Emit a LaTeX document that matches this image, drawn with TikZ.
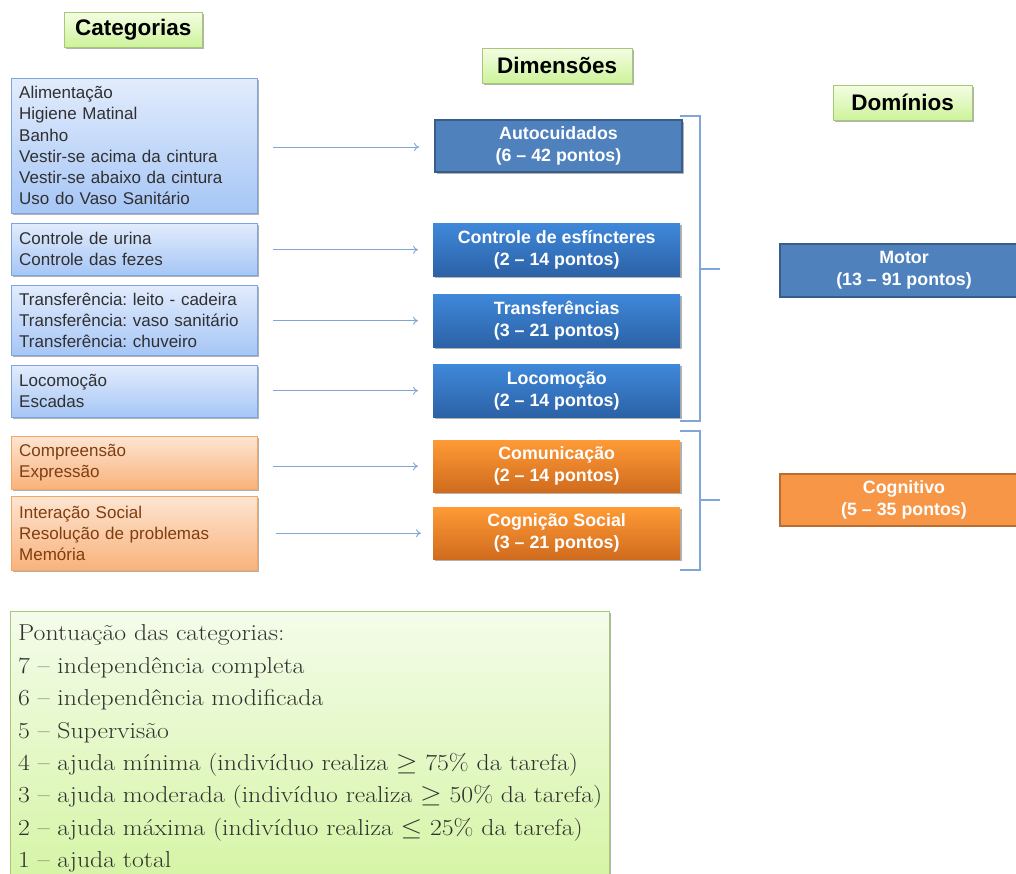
\documentclass[tikz,border=0pt]{standalone}
\usepackage{fontspec}
\usepackage{graphicx}
\newfontfamily\arial{Liberation Sans}
\usetikzlibrary{shadows,arrows.meta,calc}
\frenchspacing
\definecolor{hdrBd}{HTML}{A9C877}
\definecolor{hdrT}{HTML}{F4FDE4}
\definecolor{hdrBo}{HTML}{CDF39A}
\definecolor{catBd}{HTML}{7FA6DC}
\definecolor{catT}{HTML}{E2ECFC}
\definecolor{catBo}{HTML}{A6C6F6}
\definecolor{orgBd}{HTML}{F4A765}
\definecolor{orgT}{HTML}{FDE5D2}
\definecolor{orgBo}{HTML}{F9B27B}
\definecolor{orgTxt}{HTML}{7F3E10}
\definecolor{catTxt}{HTML}{303030}
\definecolor{dimT}{HTML}{3F88DA}
\definecolor{dimBo}{HTML}{2C62A6}
\definecolor{dimO}{HTML}{FF9A36}
\definecolor{dimOBo}{HTML}{D06B1E}
\definecolor{steel}{HTML}{4F81BD}
\definecolor{steelBd}{HTML}{385D8A}
\definecolor{orgF}{HTML}{F79646}
\definecolor{orgFBd}{HTML}{B66D31}
\definecolor{lnk}{HTML}{80A6D8}
\definecolor{botT}{HTML}{F4FCEA}
\definecolor{botBo}{HTML}{D3F4A0}
\definecolor{botBd}{HTML}{A9C877}
\begin{document}
\begin{tikzpicture}[x=1pt,y=-1pt,
  shd/.style={drop shadow={shadow xshift=1.5pt,shadow yshift=-2pt,opacity=0.3,fill=black}},
  hdr/.style={shd,draw=hdrBd,top color=hdrT,bottom color=hdrBo,anchor=north west,inner sep=0pt,
    minimum height=35pt,font=\arial\bfseries\fontsize{22.5}{26}\selectfont,text=black},
  catbox/.style={shd,draw=catBd,top color=catT,bottom color=catBo,anchor=north west,
    text width=230pt,inner xsep=8pt,inner ysep=0pt,align=left,
    font=\arial\fontsize{17}{21.2}\selectfont,text=catTxt},
  orgbox/.style={catbox,draw=orgBd,top color=orgT,bottom color=orgBo,text=orgTxt},
  dimbox/.style={shd,anchor=north west,minimum width=247pt,minimum height=53pt,inner sep=0pt,
    align=center,font=\arial\bfseries\fontsize{17.8}{22}\selectfont,text=white,
    top color=dimT,bottom color=dimBo},
  dimorg/.style={dimbox,top color=dimO,bottom color=dimOBo},
  dombox/.style={anchor=north west,minimum width=248pt,minimum height=53pt,inner sep=0pt,
    align=center,font=\arial\bfseries\fontsize{17.8}{22}\selectfont,text=white,
    fill=steel,draw=steelBd,line width=2pt},
  link/.style={draw=lnk,line width=0.9pt,-{To[length=5pt,width=8pt]}},
  brk/.style={draw=lnk,line width=1.1pt}]
\useasboundingbox (0,0) rectangle (1016,873);
% headers
\node[hdr,minimum width=138pt] (hc) at (64,12) {Categorias};
\node[hdr,minimum width=150pt] (hd) at (482,48) {Dimensões};
\node[hdr,minimum width=139pt] (hm) at (833,85) {Domínios};
% categories
\node[catbox,minimum height=135pt] (c1) at (11,78) {Alimentação\\Higiene Matinal\\Banho\\Vestir-se acima da cintura\\Vestir-se abaixo da cintura\\Uso do Vaso Sanitário};
\node[catbox,minimum height=52pt] (c2) at (11,223) {Controle de urina\\Controle das fezes};
\node[catbox,minimum height=70pt] (c3) at (11,285) {Transferência: leito - cadeira\\Transferência: vaso sanitário\\Transferência: chuveiro};
\node[catbox,minimum height=52pt] (c4) at (11,365) {Locomoção\\Escadas};
\node[orgbox,minimum height=53pt] (c5) at (11,436) {Compreensão\\Expressão};
\node[orgbox,minimum height=74pt] (c6) at (11,496) {Interação Social\\Resolução de problemas\\Memória};
% dimensions
\node[dimbox,top color=steel,bottom color=steel,draw=steelBd,line width=2pt,minimum height=52pt] (d1) at (434,119) {Autocuidados\\(6 – 42 pontos)};
\node[dimbox] (d2) at (433,223) {Controle de esfíncteres\\(2 – 14 pontos)};
\node[dimbox] (d3) at (433,294) {Transferências\\(3 – 21 pontos)};
\node[dimbox] (d4) at (433,364) {Locomoção\\(2 – 14 pontos)};
\node[dimorg,minimum height=52pt] (d5) at (433,440) {Comunicação\\(2 – 14 pontos)};
\node[dimorg,minimum height=52pt] (d6) at (433,507) {Cognição Social\\(3 – 21 pontos)};
% domains
\node[dombox] (m1) at (779,243) {Motor\\(13 – 91 pontos)};
\node[dombox,fill=orgF,draw=orgFBd,minimum height=52pt] (m2) at (779,473) {Cognitivo\\(5 – 35 pontos)};
% arrows
\draw[link] ($(c1.east |- d1.west)+(16,1)$) -- ($(d1.west)+(-15,1)$);
\draw[link] ($(c2.east |- d2.west)+(16,0)$) -- ($(d2.west)+(-15,0)$);
\draw[link] ($(c3.east |- d3.west)+(16,0)$) -- ($(d3.west)+(-15,0)$);
\draw[link] ($(c4.east |- d4.west)+(16,0)$) -- ($(d4.west)+(-15,0)$);
\draw[link] ($(c5.east |- d5.west)+(16,0)$) -- ($(d5.west)+(-15,0)$);
\draw[link] ($(c6.east |- d6.west)+(19,0)$) -- ($(d6.west)+(-12,0)$);
% brackets
\coordinate (b1t) at (680,116);
\coordinate (b1b) at (680,421);
\coordinate (b1m) at (700,269);
\coordinate (b1e) at (720,269);
\draw[brk] (b1t) -- (700,116) -- (700,421) -- (b1b);
\draw[brk] (b1m) -- (b1e);
\coordinate (b2t) at (680,431);
\coordinate (b2b) at (680,570);
\coordinate (b2m) at (700,500);
\coordinate (b2e) at (720,500);
\draw[brk] (b2t) -- (700,431) -- (700,570) -- (b2b);
\draw[brk] (b2m) -- (b2e);
% bottom legend
\node[shd,draw=botBd,top color=botT,bottom color=botBo,anchor=north west,minimum width=599pt,minimum height=290pt,inner sep=0pt] (leg) at (10,611) {};
\node[anchor=north west,inner sep=0pt,font=\fontsize{23}{32.4}\selectfont,text=catTxt] (legt) at (18,618)
{\scalebox{1.12}[1]{\begin{tabular}{@{}l@{}}
Pontuação das categorias:\\
7 – independência completa\\
6 – independência modificada\\
5 – Supervisão\\
4 – ajuda mínima (indivíduo realiza $\geq$ 75\% da tarefa)\\
3 – ajuda moderada (indivíduo realiza $\geq$ 50\% da tarefa)\\
2 – ajuda máxima (indivíduo realiza $\leq$ 25\% da tarefa)\\
1 – ajuda total
\end{tabular}}};
\end{tikzpicture}
\end{document}
